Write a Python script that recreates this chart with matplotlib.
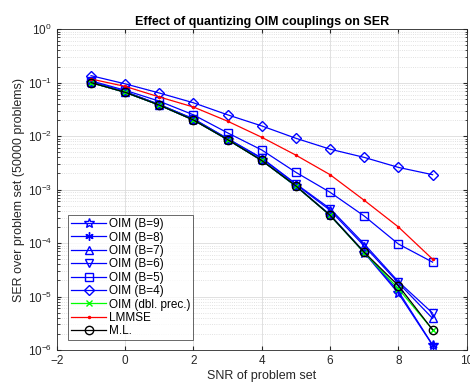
"""
SER vs SNR for OIM with quantized couplings, compared with LMMSE and M.L.
"""

import matplotlib
matplotlib.use("Agg")
import matplotlib.pyplot as plt
from matplotlib.ticker import FixedLocator, LogLocator, NullFormatter

plt.rcParams["font.family"] = ["Liberation Sans", "DejaVu Sans"]
plt.rcParams["mathtext.default"] = "regular"

snr = [-1, 0, 1, 2, 3, 4, 5, 6, 7, 8, 9]

ser_b9 = [0.100, 0.066, 0.038, 0.020, 0.0086, 0.0035, 1.15e-3, 3.3e-4, 6.6e-5, 1.15e-5, 1.23e-6]
ser_b8 = [0.101, 0.066, 0.038, 0.020, 0.0086, 0.0035, 1.17e-3, 3.4e-4, 6.8e-5, 1.25e-5, 1.25e-6]
ser_b7 = [0.103, 0.068, 0.039, 0.021, 0.0089, 0.0038, 1.25e-3, 4.1e-4, 8.8e-5, 1.8e-5, 3.9e-6]
ser_b6 = [0.103, 0.068, 0.039, 0.021, 0.0090, 0.0039, 1.28e-3, 4.4e-4, 9.6e-5, 1.9e-5, 4.9e-6]
ser_b5 = [0.108, 0.072, 0.045, 0.025, 0.0115, 0.0055, 2.1e-3, 8.9e-4, 3.2e-4, 9.6e-5, 4.4e-5]
ser_b4 = [0.135, 0.095, 0.064, 0.042, 0.025, 0.0155, 0.0091, 0.0057, 0.0040, 0.0026, 0.0019]
ser_dbl = [0.100, 0.066, 0.038, 0.020, 0.0086, 0.0035, 1.16e-3, 3.3e-4, 6.6e-5, 1.4e-5, 2.4e-6]
ser_lmmse = [0.117, 0.085, 0.054, 0.035, 0.019, 0.0095, 0.0044, 0.0019, 6.3e-4, 2.0e-4, 5.0e-5]
ser_ml = [0.100, 0.066, 0.038, 0.020, 0.0086, 0.0035, 1.17e-3, 3.3e-4, 6.7e-5, 1.6e-5, 2.4e-6]

fig = plt.figure(figsize=(4.70, 3.87), dpi=100)
ax = fig.add_axes([0.121, 0.0956, 0.872, 0.829])

lw = 0.9
ax.semilogy(snr, ser_b9, "b-", marker="*", ms=7, mfc="none", lw=lw, label="OIM (B=9)")
ax.semilogy(snr, ser_b8, "b-", marker=(6, 2, 0), ms=6, lw=lw, label="OIM (B=8)")
ax.semilogy(snr, ser_b7, "b-", marker="^", ms=6, mfc="none", lw=lw, label="OIM (B=7)")
ax.semilogy(snr, ser_b6, "b-", marker="v", ms=6, mfc="none", lw=lw, label="OIM (B=6)")
ax.semilogy(snr, ser_b5, "b-", marker="s", ms=5.5, mfc="none", lw=lw, label="OIM (B=5)")
ax.semilogy(snr, ser_b4, "b-", marker="D", ms=5.5, mfc="none", lw=lw, label="OIM (B=4)")
ax.semilogy(snr, ser_dbl, "-", color=(0, 1, 0), marker="x", ms=4, lw=lw, label="OIM (dbl. prec.)")
ax.semilogy(snr, ser_lmmse, "r-", marker=".", ms=3, lw=lw, label="LMMSE")
ax.semilogy(snr, ser_ml, "k-", marker="o", ms=6, mfc="none", lw=lw, label="M.L.")

ax.set_xlim(-2, 10)
ax.set_ylim(1e-6, 1)
ax.xaxis.set_major_locator(FixedLocator([-2, 0, 2, 4, 6, 8, 10]))
ax.yaxis.set_major_locator(FixedLocator([10.0 ** k for k in range(-6, 1)]))
ax.set_yticklabels([f"$10^{{{k}}}$" for k in range(-6, 1)])
ax.yaxis.set_minor_locator(LogLocator(base=10, subs=range(2, 10), numticks=20))
ax.yaxis.set_minor_formatter(NullFormatter())

ax.grid(True, which="major", color="#dcdcdc", lw=0.6)
ax.grid(True, which="minor", axis="y", color="#d8d8d8", ls=":", lw=0.6)
ax.set_axisbelow(True)
ax.tick_params(which="both", direction="in", top=True, right=True, labelsize=8.5, colors="#262626")
ax.tick_params(which="major", length=3)
ax.tick_params(which="minor", length=1.8)
for s in ax.spines.values():
    s.set_color("#262626")
    s.set_linewidth(0.6)

ax.set_xlabel("SNR of problem set", fontsize=9, color="#262626", labelpad=2)
ax.set_ylabel("SER over problem set (50000 problems)", fontsize=9, color="#262626", labelpad=2)
ax.set_title("Effect of quantizing OIM couplings on SER", fontsize=9, weight="bold", pad=3)

leg = ax.legend(loc="lower left", bbox_to_anchor=(0.027, 0.03), fontsize=8.5,
                frameon=True, fancybox=False, edgecolor="#262626", borderpad=0.25,
                labelspacing=0.12, handlelength=3.0, handletextpad=0.2, borderaxespad=0)
leg.get_frame().set_linewidth(0.6)

plt.savefig("out.png", dpi=100)
